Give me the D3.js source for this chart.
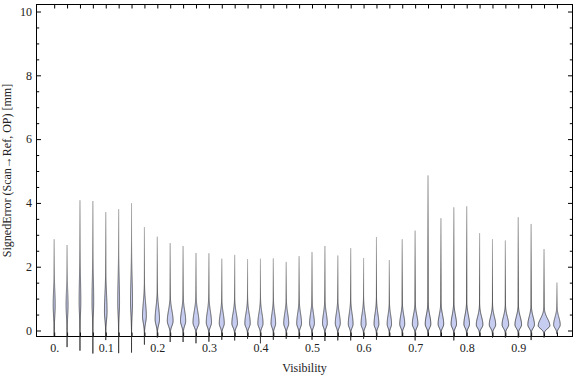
<!DOCTYPE html>
<html>
<head>
<meta charset="utf-8">
<script src="https://cdn.jsdelivr.net/npm/d3@7"></script>
<style>
  body { margin: 0; background: #fff; }
  text { font-family: "Liberation Serif", "Times New Roman", serif; }
</style>
</head>
<body>
<div id="chart"></div>
<script>
// Visibility bins (one violin per bin)
const visibility = [0, 0.025, 0.05, 0.075, 0.1, 0.125, 0.15, 0.175, 0.2, 0.225,
    0.25, 0.275, 0.3, 0.325, 0.35, 0.375, 0.4, 0.425, 0.45, 0.475,
    0.5, 0.525, 0.55, 0.575, 0.6, 0.625, 0.65, 0.675, 0.7, 0.725,
    0.75, 0.775, 0.8, 0.825, 0.85, 0.875, 0.9, 0.925, 0.95, 0.975];

// largest / smallest signed error per bin [mm]
const maxVals = [2.86, 2.68, 4.08, 4.06, 3.71, 3.8, 3.99, 3.24, 2.94, 2.74,
    2.65, 2.43, 2.42, 2.25, 2.37, 2.24, 2.25, 2.26, 2.15, 2.33,
    2.46, 2.65, 2.35, 2.58, 2.27, 2.93, 2.21, 2.86, 3.13, 4.86,
    3.52, 3.86, 3.89, 3.05, 2.86, 2.82, 3.55, 3.34, 2.55, 1.5];
const minVals = [-0.2, -0.52, -0.63, -0.72, -0.3, -0.71, -0.69, -0.44, -0.22, -0.36,
    -0.36, -0.4, -0.35, -0.29, -0.31, -0.26, -0.4, -0.29, -0.26, -0.26,
    -0.29, -0.33, -0.31, -0.31, -0.26, -0.29, -0.2, -0.2, -0.31, -0.2,
    -0.2, -0.31, -0.2, -0.2, -0.22, -0.22, -0.22, -0.3, -0.22, -0.1];

// mode of each distribution, where the bulk of it ends, and peak density
const peakVals = [0.8, 0.8, 0.9, 0.9, 0.6, 0.9, 0.9, 0.45, 0.35, 0.3,
    0.3, 0.25, 0.25, 0.22, 0.22, 0.22, 0.22, 0.22, 0.22, 0.22,
    0.22, 0.22, 0.22, 0.2, 0.2, 0.2, 0.2, 0.2, 0.2, 0.2,
    0.2, 0.2, 0.2, 0.18, 0.18, 0.18, 0.18, 0.18, 0.15, 0.18];
const bodyTopVals = [2.0, 2.0, 2.8, 2.8, 2.0, 2.8, 2.8, 1.5, 1.3, 1.1,
    1.1, 1.1, 1.1, 1.0, 1.0, 1.0, 1.0, 1.0, 1.0, 1.0,
    1.0, 1.0, 1.0, 1.0, 1.0, 1.0, 0.9, 0.9, 0.9, 0.9,
    0.9, 0.9, 0.9, 0.8, 0.8, 0.8, 0.8, 0.8, 0.7, 0.75];
const densityVals = [0.5, 0.5, 0.42, 0.42, 0.65, 0.45, 0.5, 0.95, 1.1, 1.45,
    1.3, 1.5, 1.3, 1.25, 1.4, 1.35, 1.3, 1.15, 1.25, 1.2,
    1.2, 1.2, 1.25, 1.2, 1.25, 1.2, 1.1, 1.25, 1.4, 1.4,
    1.4, 1.35, 1.4, 1.65, 1.6, 1.65, 1.65, 1.65, 2.9, 1.65];

const xTickVals = [0, 0.1, 0.2, 0.3, 0.4, 0.5, 0.6, 0.7, 0.8, 0.9];
const xTickLabels = ["0.", "0.1", "0.2", "0.3", "0.4", "0.5", "0.6", "0.7", "0.8", "0.9"];
const yMajorTicks = [0, 2, 4, 6, 8, 10];
const yMinorTicks = [0.5, 1, 1.5, 2.5, 3, 3.5, 4.5, 5, 5.5, 6.5, 7, 7.5, 8.5, 9, 9.5];

const width = 576, height = 377;
const frame = { left: 36.5, right: 572.5, top: 4.5, bottom: 336.5 };

const svg = d3.select("#chart")
    .append("svg")
    .attr("width", width)
    .attr("height", height);

const x = d3.scaleLinear()
    .domain([-0.0343, 1.0052])
    .range([frame.left, frame.right]);
const y = d3.scaleLinear()
    .domain([-0.188, 10.22])
    .range([frame.bottom, frame.top]);
const w = d3.scaleLinear().domain([0, 1]).range([0, 2]);

// gradient for the violin outline: dark near the body, fading up the tail
const defs = svg.append("defs");
const grad = defs.append("linearGradient")
    .attr("id", "tailGrad")
    .attr("x1", 0).attr("y1", 1).attr("x2", 0).attr("y2", 0);
grad.append("stop").attr("offset", "0%").attr("stop-color", "#1a1a1a");
grad.append("stop").attr("offset", "45%").attr("stop-color", "#444");
grad.append("stop").attr("offset", "100%").attr("stop-color", "#a8a8a8");

// frame
svg.append("rect")
    .attr("x", frame.left)
    .attr("y", frame.top)
    .attr("width", frame.right - frame.left)
    .attr("height", frame.bottom - frame.top)
    .attr("fill", "none")
    .attr("stroke", "#000")
    .attr("stroke-width", 1);

function cleanAxis(g) {
    g.select(".domain").remove();
    g.selectAll(".tick line").attr("stroke", "#000");
    g.selectAll("text")
        .attr("fill", "#222")
        .style("font-family", "'Liberation Serif', 'Times New Roman', serif")
        .style("font-size", "12px");
}

// left axis
svg.append("g")
    .attr("transform", `translate(${frame.left},0)`)
    .call(d3.axisLeft(y).tickValues(yMajorTicks).tickSize(-4.5).tickPadding(4.5)
        .tickFormat(d3.format("d")))
    .call(cleanAxis);
svg.append("g")
    .attr("transform", `translate(${frame.left},0)`)
    .call(d3.axisLeft(y).tickValues(yMinorTicks).tickSize(-2.7).tickFormat(""))
    .call(cleanAxis);

// right axis (ticks only)
svg.append("g")
    .attr("transform", `translate(${frame.right},0)`)
    .call(d3.axisRight(y).tickValues(yMajorTicks).tickSize(-4.5).tickFormat(""))
    .call(cleanAxis);
svg.append("g")
    .attr("transform", `translate(${frame.right},0)`)
    .call(d3.axisRight(y).tickValues(yMinorTicks).tickSize(-2.7).tickFormat(""))
    .call(cleanAxis);

// top and bottom ticks at each bin
svg.append("g")
    .attr("transform", `translate(0,${frame.top})`)
    .call(d3.axisTop(x).tickValues(visibility).tickSize(-4).tickFormat(""))
    .call(cleanAxis);
svg.append("g")
    .attr("transform", `translate(0,${frame.bottom})`)
    .call(d3.axisBottom(x).tickValues(visibility).tickSize(-4).tickFormat(""))
    .call(cleanAxis);
svg.append("g")
    .attr("transform", `translate(0,${frame.bottom})`)
    .call(d3.axisBottom(x).tickValues(xTickVals).tickSize(0).tickPadding(6.5)
        .tickFormat((d, i) => xTickLabels[i]))
    .call(cleanAxis);

// violins
const violins = visibility.map((v, i) => {
    const lo = minVals[i], hi = maxVals[i];
    const peak = peakVals[i];
    const sLo = (peak + 0.08) / 2.5;
    const sHi = (bodyTopVals[i] - peak) / 2.5;
    const n = 220;
    const pts = d3.range(n + 1).map(k => {
        const t = lo + (hi - lo) * k / n;
        const s = t < peak ? sLo : sHi;
        const g = Math.exp(-0.5 * Math.pow((t - peak) / s, 2));
        return { t, half: w(densityVals[i] * g) };
    });
    return { v, pts };
});

const area = d3.area()
    .x0(d => d.cx - d.half)
    .x1(d => d.cx + d.half)
    .y(d => y(d.t))
    .curve(d3.curveLinear);

svg.append("g")
    .selectAll("path")
    .data(violins)
    .join("path")
    .attr("d", d => area(d.pts.map(p => ({ ...p, cx: x(d.v) }))))
    .attr("fill", "#c6cdf1")
    .attr("stroke", "url(#tailGrad)")
    .attr("stroke-width", 0.8)
    .attr("stroke-linejoin", "round");

// axis titles
svg.append("text")
    .attr("x", (frame.left + frame.right) / 2)
    .attr("y", 372)
    .attr("text-anchor", "middle")
    .attr("fill", "#222")
    .style("font-size", "12px")
    .text("Visibility");

svg.append("text")
    .attr("transform", `translate(11,${(frame.top + frame.bottom) / 2}) rotate(-90)`)
    .attr("text-anchor", "middle")
    .attr("fill", "#222")
    .style("font-size", "12px")
    .text("SignedError (Scan\u2192Ref, OP) [mm]");
</script>
</body>
</html>
